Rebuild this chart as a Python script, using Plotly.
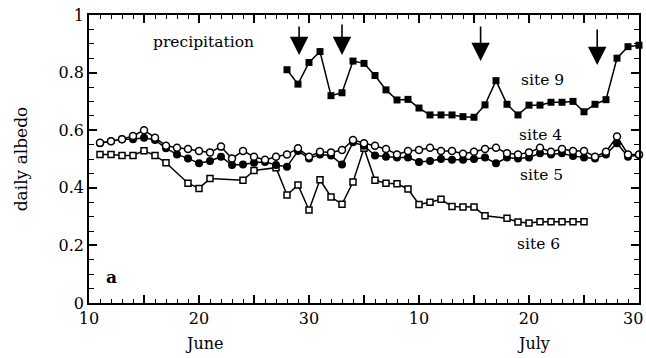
import plotly.graph_objects as go

# x = day counted from 1 June (July d -> 30 + d)
site9_x = list(range(28, 61))
site9_y = [0.81, 0.76, 0.835, 0.873, 0.72, 0.73, 0.84, 0.832, 0.79, 0.74, 0.705, 0.707,
           0.677, 0.653, 0.653, 0.653, 0.647, 0.645, 0.688, 0.772, 0.69, 0.653, 0.687,
           0.687, 0.697, 0.697, 0.70, 0.664, 0.69, 0.706, 0.85, 0.89, 0.895]

site4_x = list(range(11, 61))
site4_y = [0.556, 0.562, 0.569, 0.58, 0.60, 0.574, 0.546, 0.539, 0.535, 0.528,
           0.523, 0.543, 0.502, 0.528, 0.508, 0.497, 0.508, 0.516, 0.537, 0.508,
           0.525, 0.523, 0.531, 0.566, 0.555, 0.546, 0.535, 0.516, 0.528, 0.531,
           0.539, 0.528, 0.528, 0.518, 0.525, 0.535, 0.539, 0.52, 0.516, 0.523,
           0.539, 0.525, 0.535, 0.528, 0.528, 0.508, 0.525, 0.578, 0.516, 0.516]

site5_x = list(range(11, 61))
site5_y = [0.555, 0.562, 0.569, 0.569, 0.574, 0.566, 0.537, 0.516, 0.502, 0.485,
           0.493, 0.508, 0.479, 0.481, 0.487, 0.49, 0.479, 0.473, 0.528, 0.502,
           0.516, 0.512, 0.481, 0.558, 0.546, 0.512, 0.508, 0.505, 0.505, 0.49,
           0.493, 0.5, 0.497, 0.497, 0.5, 0.505, 0.485, 0.505, 0.502, 0.505,
           0.52, 0.516, 0.52, 0.51, 0.505, 0.502, 0.516, 0.555, 0.508, 0.514]

site6_x = [11, 12, 13, 14, 15, 16, 17, 19, 20, 21, 24, 25, 27, 28, 29, 30, 31, 32, 33,
           34, 35, 36, 37, 38, 39, 40, 41, 42, 43, 44, 45, 46, 48, 49, 50, 51, 52, 53,
           54, 55]
site6_y = [0.516, 0.516, 0.512, 0.512, 0.529, 0.512, 0.487, 0.416, 0.398, 0.432,
           0.426, 0.46, 0.47, 0.375, 0.41, 0.323, 0.428, 0.368, 0.343, 0.42, 0.537,
           0.426, 0.416, 0.414, 0.396, 0.342, 0.35, 0.36, 0.335, 0.333, 0.333, 0.303,
           0.294, 0.281, 0.278, 0.282, 0.282, 0.282, 0.282, 0.282]

# precipitation arrows: day, tip value, tail value
precip_x = [29.1, 33.0, 45.6, 56.2]
precip_tip = [0.861, 0.861, 0.84, 0.826]
precip_tail = [0.965, 0.972, 0.965, 0.955]

tick_vals = [10, 15, 20, 25, 30, 35, 40, 45, 50, 55, 60]
tick_text = ["10", "", "20", "", "30", "", "10", "", "20", "", "30"]

FONT = "DejaVu Serif"
fig = go.Figure()

fig.add_trace(go.Scatter(x=site6_x, y=site6_y, mode="lines+markers",
                         line=dict(color="black", width=1.5),
                         marker=dict(symbol="square", size=6, color="white",
                                     line=dict(color="black", width=1.5)),
                         cliponaxis=False))
fig.add_trace(go.Scatter(x=site5_x, y=site5_y, mode="lines+markers",
                         line=dict(color="black", width=1.5),
                         marker=dict(symbol="circle", size=8, color="black"),
                         cliponaxis=False))
fig.add_trace(go.Scatter(x=site4_x, y=site4_y, mode="lines+markers",
                         line=dict(color="black", width=1.5),
                         marker=dict(symbol="circle", size=7, color="white",
                                     line=dict(color="black", width=1.5)),
                         cliponaxis=False))
fig.add_trace(go.Scatter(x=site9_x, y=site9_y, mode="lines+markers",
                         line=dict(color="black", width=1.5),
                         marker=dict(symbol="square", size=7, color="black"),
                         cliponaxis=False))

for px_, tip, tail in zip(precip_x, precip_tip, precip_tail):
    fig.add_annotation(x=px_, y=tip, ax=px_, ay=tail, xref="x", yref="y",
                       axref="x", ayref="y", text="", showarrow=True,
                       arrowhead=2, arrowsize=2.3, arrowwidth=1.6,
                       arrowcolor="black", standoff=0)

labels = [("precipitation", 20.45, 0.906),
          ("site 9", 51.2, 0.774),
          ("site 4", 51.0, 0.583),
          ("site 5", 51.1, 0.444),
          ("site 6", 50.9, 0.205)]
for t, x, y in labels:
    fig.add_annotation(x=x, y=y, xref="x", yref="y", text=t, showarrow=False,
                       font=dict(family=FONT, size=15.5, color="black"))
fig.add_annotation(x=12.0, y=0.09, xref="x", yref="y", text="<b>a</b>",
                   showarrow=False, font=dict(family=FONT, size=17, color="black"))
for t, x in (("June", 20.5), ("July", 50.4)):
    fig.add_annotation(x=x, y=0, xref="x", yref="paper", yanchor="middle",
                       yshift=-40, text=t, showarrow=False,
                       font=dict(family=FONT, size=16, color="black"))
# last x tick label, kept inside the page edge
fig.add_annotation(x=tick_vals[-1], y=0, xref="x", yref="paper", xanchor="right",
                   yanchor="middle", xshift=6, yshift=-15, text=tick_text[-1],
                   showarrow=False, font=dict(family=FONT, size=16, color="black"))
axis_text = tick_text[:-1] + [""]

fig.update_layout(
    width=646, height=358,
    margin=dict(l=89, r=7, t=15, b=55, autoexpand=False),
    paper_bgcolor="white", plot_bgcolor="white",
    showlegend=False,
    font=dict(family=FONT, color="black"),
    xaxis=dict(range=[10, 60], tickmode="array", tickvals=tick_vals, ticktext=axis_text,
               ticks="inside", ticklen=8, tickwidth=1.5, tickcolor="black",
               showline=True, linecolor="black", linewidth=1.5, mirror="ticks",
               showgrid=False, zeroline=False, ticklabeloverflow="allow",
               automargin=False,
               tickfont=dict(family=FONT, size=16, color="black"),
               minor=dict(dtick=1, ticks="inside", ticklen=4, tickwidth=1,
                          tickcolor="black", showgrid=False)),
    yaxis=dict(range=[0, 1], tickmode="linear", tick0=0, dtick=0.2,
               ticks="inside", ticklen=8, tickwidth=1.5, tickcolor="black",
               showline=True, linecolor="black", linewidth=1.5, mirror="ticks",
               showgrid=False, zeroline=False, ticklabeloverflow="allow",
               automargin=False,
               tickfont=dict(family=FONT, size=16, color="black"),
               title=dict(text="daily albedo", font=dict(family=FONT, size=17, color="black"),
                          standoff=27),
               minor=dict(dtick=0.05, ticks="inside", ticklen=5, tickwidth=1,
                          tickcolor="black", showgrid=False)),
)

fig.write_html("out.html")
